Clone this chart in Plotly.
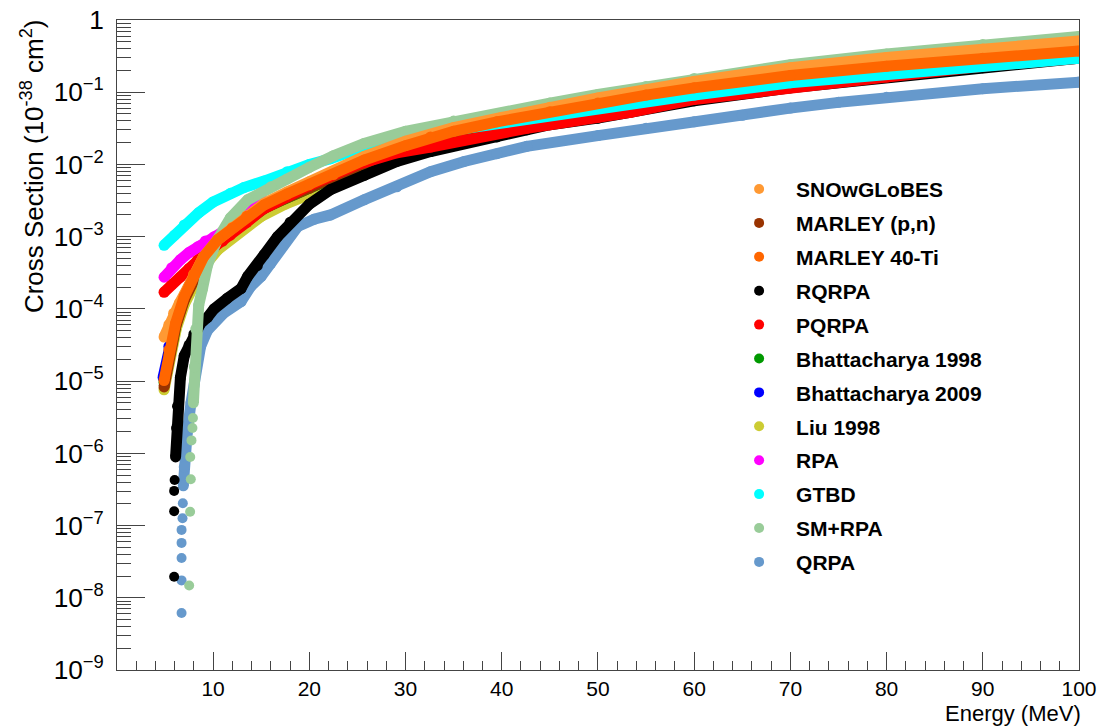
import plotly.graph_objects as go

# ---------------- data (energy in MeV, cross section in 1e-38 cm^2) ----------------
snow_E = [4.9, 5.4, 5.9, 6.5, 7.0, 8.0, 9.0, 10.5, 12.0, 13.5, 15.3, 17.7, 20, 22.5, 25.7, 30, 35, 40, 45, 50, 60, 70, 80, 90, 100]
snow_xs = [4.07e-5, 6.03e-5, 8.71e-5, 1.20e-4, 1.58e-4, 3.02e-4, 5.25e-4, 9.12e-4, 1.35e-3, 1.95e-3, 2.88e-3, 4.17e-3,
           5.75e-3, 8.13e-3, 1.29e-2, 2.09e-2, 3.24e-2, 4.47e-2, 6.17e-2, 8.32e-2, 0.141, 0.219, 0.302, 0.398, 0.513]

marpn_E = [4.9, 5.4, 6.1, 7.0, 8.0, 9.0, 10.5, 12.0, 13.5, 15.3, 17.7, 20, 22.5, 25.7, 30, 35, 40, 50, 60, 70, 80, 90, 100]
marpn_xs = [8.3e-6, 2.34e-5, 5.62e-5, 1.32e-4, 2.69e-4, 4.68e-4, 8.13e-4, 1.17e-3, 1.70e-3, 2.45e-3, 3.47e-3, 4.68e-3,
            6.46e-3, 1.02e-2, 1.62e-2, 2.57e-2, 3.55e-2, 6.31e-2, 0.102, 0.151, 0.204, 0.263, 0.331]

marti_E = [4.9, 5.4, 6.1, 7.0, 8.0, 9.0, 10.5, 12.0, 13.5, 15.3, 17.7, 20, 22.5, 25.7, 30, 32.6, 35, 39.5, 45, 50, 55, 60, 70, 80, 90, 100]
marti_xs = [1.02e-5, 2.69e-5, 6.31e-5, 1.48e-4, 3.02e-4, 5.25e-4, 9.12e-4, 1.32e-3, 1.91e-3, 2.75e-3, 3.89e-3, 5.25e-3,
            7.24e-3, 1.15e-2, 1.82e-2, 2.40e-2, 2.88e-2, 3.89e-2, 5.37e-2, 7.08e-2, 9.12e-2, 0.115, 0.170, 0.229, 0.295, 0.372]

rqrpa_tail_E = [5.95, 5.95, 5.95, 6.0]
rqrpa_tail_xs = [1.95e-8, 1.58e-7, 3.02e-7, 4.27e-7]
rqrpa_E = [6.1, 6.2, 6.3, 6.6, 7.0, 7.5, 8.0, 8.7, 9.4, 10.1, 11.5, 12.9, 13.6, 14.6, 15.3, 16.7, 18, 20, 22.2, 25.7,
           29.1, 32.6, 36.1, 39.5, 42.6, 45, 50, 60, 70, 80, 90, 100]
rqrpa_xs = [8.91e-7, 2.24e-6, 4.47e-6, 1.12e-5, 2.24e-5, 3.16e-5, 4.47e-5, 6.31e-5, 7.59e-5, 1.0e-4, 1.41e-4, 1.91e-4,
            2.82e-4, 3.98e-4, 5.62e-4, 1.0e-3, 1.58e-3, 2.82e-3, 4.47e-3, 7.08e-3, 1.10e-2, 1.51e-2, 1.95e-2, 2.40e-2,
            3.02e-2, 3.55e-2, 4.37e-2, 7.59e-2, 0.115, 0.162, 0.219, 0.295]

pqrpa_E = [4.9, 5.7, 6.6, 7.5, 8.4, 9.2, 10.1, 11.0, 11.8, 13.5, 15, 20, 25, 29.1, 32.6, 36.1, 39.5, 42.6, 45, 50, 53.4,
           60, 70, 80, 90, 100]
pqrpa_xs = [1.70e-4, 2.19e-4, 2.75e-4, 3.63e-4, 4.79e-4, 5.89e-4, 7.24e-4, 8.71e-4, 1.05e-3, 1.58e-3, 2.34e-3, 5.13e-3,
            1.0e-2, 1.45e-2, 1.74e-2, 2.19e-2, 2.69e-2, 3.16e-2, 3.55e-2, 4.47e-2, 5.25e-2, 7.94e-2, 0.117, 0.162, 0.229, 0.295]

bh98_E = [4.9, 5.5, 6.2, 7.0, 8.0, 9.0, 10.5, 12.5, 15, 20, 25, 30, 40, 50, 60, 70, 80, 90, 100]
bh98_xs = [9.55e-6, 2.82e-5, 6.46e-5, 1.38e-4, 2.88e-4, 5.01e-4, 8.71e-4, 1.45e-3, 2.40e-3, 4.90e-3, 9.12e-3, 1.58e-2,
           3.55e-2, 6.46e-2, 0.102, 0.151, 0.209, 0.275, 0.347]

bh09_E = [4.8, 5.4, 6.1, 7.0, 8.0, 9.0, 10.5, 12.5, 15, 20, 25, 30, 40, 50, 60, 70, 80, 90, 100]
bh09_xs = [1.12e-5, 3.02e-5, 6.76e-5, 1.51e-4, 3.09e-4, 5.37e-4, 9.33e-4, 1.51e-3, 2.51e-3, 5.01e-3, 9.55e-3, 1.62e-2,
           3.63e-2, 6.61e-2, 0.105, 0.155, 0.214, 0.282, 0.355]

liu_E = [4.9, 5.5, 6.2, 7.0, 8.0, 9.0, 10.5, 12.9, 15, 17.5, 20, 22.5, 25.7, 30, 35, 40, 50, 60, 70, 80, 90, 100]
liu_xs = [7.59e-6, 2.40e-5, 5.50e-5, 1.15e-4, 2.24e-4, 3.80e-4, 6.61e-4, 1.23e-3, 1.91e-3, 2.82e-3, 3.89e-3, 5.13e-3,
          8.32e-3, 1.32e-2, 2.00e-2, 2.82e-2, 5.25e-2, 8.71e-2, 0.132, 0.186, 0.245, 0.316]

rpa_E = [4.9, 5.7, 6.6, 7.5, 8.4, 9.2, 10.1, 11.0, 11.8, 12.7, 13.6, 14.3, 15.0]
rpa_xs = [2.75e-4, 3.72e-4, 4.79e-4, 6.03e-4, 7.24e-4, 8.71e-4, 1.0e-3, 1.15e-3, 1.35e-3, 1.82e-3, 2.45e-3, 2.88e-3, 3.31e-3]

gtbd_E = [4.9, 6.0, 7.0, 8.5, 10.0, 11.8, 13.2, 15.3, 17.7, 20, 22.2, 25.7, 30, 35, 40, 50, 60, 70, 80, 90, 100]
gtbd_xs = [7.59e-4, 1.05e-3, 1.45e-3, 2.14e-3, 3.02e-3, 3.98e-3, 4.79e-3, 5.89e-3, 7.94e-3, 1.0e-2, 1.20e-2, 1.74e-2,
           2.40e-2, 3.02e-2, 3.80e-2, 6.03e-2, 9.12e-2, 0.135, 0.178, 0.234, 0.295]

smrpa_tail_E = [7.51, 7.61, 7.68, 7.62, 7.75, 7.85, 7.9]
smrpa_tail_xs = [1.48e-8, 1.55e-7, 4.37e-7, 8.91e-7, 1.51e-6, 2.24e-6, 3.09e-6]
smrpa_E = [7.95, 8.05, 8.2, 8.5, 8.9, 9.4, 10.4, 11.8, 13.6, 16.0, 17.7, 20, 22.5, 25.7, 30, 35, 40, 45, 50, 55, 60,
           70, 80, 90, 100]
smrpa_xs = [5.01e-6, 1.58e-5, 5.25e-5, 1.12e-4, 1.91e-4, 3.98e-4, 8.91e-4, 1.82e-3, 3.24e-3, 4.90e-3, 6.31e-3, 9.12e-3,
            1.32e-2, 1.95e-2, 2.88e-2, 3.98e-2, 5.13e-2, 7.08e-2, 9.33e-2, 0.120, 0.155, 0.240, 0.339, 0.457, 0.589]

qrpa_tail_E = [6.72, 6.72, 6.72, 6.72, 6.72, 6.82, 6.85]
qrpa_tail_xs = [6.17e-9, 1.74e-8, 3.55e-8, 5.75e-8, 8.71e-8, 1.26e-7, 2.04e-7]
qrpa_E = [6.9, 7.0, 7.3, 7.7, 8.2, 8.7, 9.4, 10.2, 11.1, 12.9, 13.9, 15.0, 16.0, 17.5, 18.8, 20.5, 22.2, 25.7, 29.1,
          32.6, 36.1, 39.5, 42.6, 50, 55, 60, 65, 70, 75, 80, 90, 100]
qrpa_xs = [3.55e-7, 6.46e-7, 1.91e-6, 5.01e-6, 1.66e-5, 3.02e-5, 5.01e-5, 6.92e-5, 8.71e-5, 1.26e-4, 2.04e-4, 2.82e-4,
           4.27e-4, 8.91e-4, 1.38e-3, 1.74e-3, 2.00e-3, 3.24e-3, 4.90e-3, 7.94e-3, 1.10e-2, 1.41e-2, 1.78e-2, 2.51e-2,
           3.16e-2, 3.89e-2, 4.79e-2, 6.03e-2, 7.24e-2, 8.51e-2, 0.112, 0.138]

x_tick_vals = [10, 20, 30, 40, 50, 60, 70, 80, 90, 100]

# ---------------- series definitions ----------------
series = {
    "SNOwGLoBES": dict(E=snow_E, xs=snow_xs, color="#ff9933"),
    "MARLEY (p,n)": dict(E=marpn_E, xs=marpn_xs, color="#993300"),
    "MARLEY 40-Ti": dict(E=marti_E, xs=marti_xs, color="#ff6600"),
    "RQRPA": dict(E=rqrpa_E, xs=rqrpa_xs, color="#000000", tE=rqrpa_tail_E, txs=rqrpa_tail_xs),
    "PQRPA": dict(E=pqrpa_E, xs=pqrpa_xs, color="#ff0000"),
    "Bhattacharya 1998": dict(E=bh98_E, xs=bh98_xs, color="#009900"),
    "Bhattacharya 2009": dict(E=bh09_E, xs=bh09_xs, color="#0000ff"),
    "Liu 1998": dict(E=liu_E, xs=liu_xs, color="#cccc33"),
    "RPA": dict(E=rpa_E, xs=rpa_xs, color="#ff00ff"),
    "GTBD": dict(E=gtbd_E, xs=gtbd_xs, color="#00ffff"),
    "SM+RPA": dict(E=smrpa_E, xs=smrpa_xs, color="#99cc99", tE=smrpa_tail_E, txs=smrpa_tail_xs),
    "QRPA": dict(E=qrpa_E, xs=qrpa_xs, color="#6699cc", tE=qrpa_tail_E, txs=qrpa_tail_xs),
}
legend_order = ["SNOwGLoBES", "MARLEY (p,n)", "MARLEY 40-Ti", "RQRPA", "PQRPA", "Bhattacharya 1998",
                "Bhattacharya 2009", "Liu 1998", "RPA", "GTBD", "SM+RPA", "QRPA"]
draw_order = ["QRPA", "Liu 1998", "Bhattacharya 1998", "Bhattacharya 2009", "MARLEY (p,n)", "RQRPA",
              "PQRPA", "RPA", "GTBD", "SM+RPA", "SNOwGLoBES", "MARLEY 40-Ti"]

fig = go.Figure()
for name in draw_order:
    s = series[name]
    if "tE" in s:
        fig.add_trace(go.Scatter(x=s["tE"], y=s["txs"], mode="markers",
                                 marker=dict(size=10, color=s["color"]),
                                 showlegend=False, hoverinfo="skip"))
    fig.add_trace(go.Scatter(x=s["E"], y=s["xs"], mode="lines+markers",
                             line=dict(color=s["color"], width=11),
                             marker=dict(size=11, color=s["color"]),
                             name=name, showlegend=False))
for name in legend_order:
    fig.add_trace(go.Scatter(x=[None], y=[None], mode="markers",
                             marker=dict(size=10, color=series[name]["color"]),
                             name=name, legendgroup=name, showlegend=True))

axis_col = "#444444"
font_fam = "Liberation Sans, Arial, Helvetica, sans-serif"

fig.update_layout(
    width=1103, height=728,
    margin=dict(l=117, r=24, t=20, b=58, autoexpand=False),
    paper_bgcolor="white", plot_bgcolor="white",
    font=dict(family=font_fam, color="black"),
    legend=dict(x=0.629, y=0.771, xanchor="left", yanchor="top",
                bgcolor="rgba(0,0,0,0)", borderwidth=0,
                font=dict(family=font_fam, size=21, weight="bold", color="black"),
                traceorder="grouped", tracegroupgap=3.6, itemwidth=64),
    xaxis=dict(range=[0.01, 100], tickvals=x_tick_vals, ticks="inside", ticklen=18, tickwidth=1,
               tickcolor=axis_col, showline=True, linecolor=axis_col, linewidth=1, mirror=True,
               showgrid=False, zeroline=False, automargin=False,
               tickfont=dict(family=font_fam, size=21, color="black"),
               minor=dict(ticks="inside", ticklen=9, tickwidth=1, tickcolor=axis_col,
                          tickmode="linear", tick0=0, dtick=2, showgrid=False)),
    yaxis=dict(type="log", range=[-9, 0], dtick=1, exponentformat="power", showexponent="all",
               ticks="inside", ticklen=28, tickwidth=1, tickcolor=axis_col,
               showline=True, linecolor=axis_col, linewidth=1, mirror=True,
               showgrid=False, zeroline=False, ticklabelstandoff=8, automargin=False,
               tickfont=dict(family=font_fam, size=21, color="black"),
               minor=dict(ticks="inside", ticklen=14, tickwidth=1, tickcolor=axis_col,
                          dtick="D1", showgrid=False)),
    annotations=[
        dict(text="Cross Section (10<sup>-38</sup> cm<sup>2</sup>)", xref="paper", yref="paper",
             x=-0.088, y=1.005, xanchor="center", yanchor="top", textangle=-90, showarrow=False,
             font=dict(family=font_fam, size=26, color="black")),
        dict(text="Energy (MeV)", xref="paper", yref="paper", x=1.004, y=-0.045,
             xanchor="right", yanchor="top", showarrow=False,
             font=dict(family=font_fam, size=22, color="black")),
    ],
)

fig.write_html("out.html")
